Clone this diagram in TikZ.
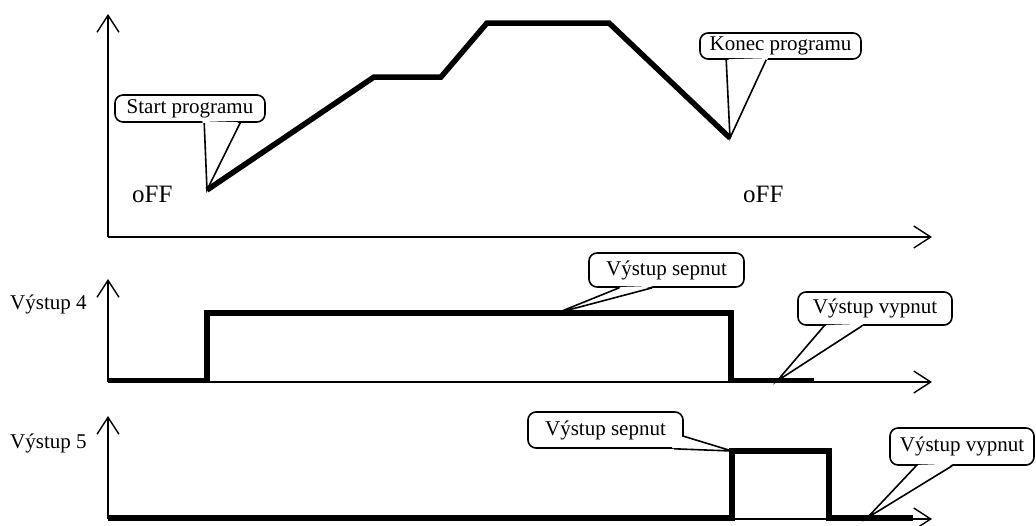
\documentclass[tikz,border=0pt]{standalone}
\usepackage{fontspec}
\setmainfont{Liberation Serif}
\usetikzlibrary{arrows.meta,calc,positioning}
\tikzset{
	timing diagram/.style={
		x=1pt, y=-1pt,
		axis/.style={line width=1.4pt, -{Straight Barb[length=17pt,width=22pt,line width=1.4pt]}},
		signal/.style={line width=5.5pt, line join=miter},
		bubble/.style={draw, line width=1.6pt, rounded corners=8pt, fill=white, inner sep=0pt,
			font=\fontsize{21}{25}\selectfont},
		level/.style={font=\fontsize{25}{30}\selectfont, inner sep=0pt, anchor=base west},
		channel/.style={font=\fontsize{21}{25}\selectfont, inner sep=0pt, anchor=base west}
		}
}
% tail of a speech bubble: node, two base offsets from its south west, tip
\newcommand\bubbletail[4]{%
	\coordinate (#1_b1) at ($(#1.south west)+(#2)$);
	\coordinate (#1_b2) at ($(#1.south west)+(#3)$);
	\fill[white] ($(#1_b1)!2.5pt!(#1.center)$) -- (#4) -- ($(#1_b2)!2.5pt!(#1.center)$) -- cycle;
	\draw[line width=1.6pt, line join=miter] (#1_b1) -- (#4) -- (#1_b2);}
\begin{document}
\begin{tikzpicture}[timing diagram]
	\useasboundingbox (0,0) rectangle (1036,525);
	% axes
	\coordinate (o1) at (108,237);
	\coordinate (o2) at (108,382);
	\coordinate (o3) at (108,519);
	\draw[axis] (o1) -- (108,14);
	\draw[axis] (o1) -- (932,237);
	\draw[axis] (o2) -- (108,279);
	\draw[axis] (o2) -- (932,382);
	\draw[axis] (o3) -- (108,416);
	\draw[axis] (o3) -- (932,519);
	% program curve
	\coordinate (start) at (207,190);
	\coordinate (stop) at (730,138);
	\draw[signal] (start) -- (374,77) -- (441,77) -- (487,23) -- (609,23) -- (stop);
	% outputs
	\coordinate (on4) at (557,313);
	\coordinate (off4) at (777,381);
	\draw[signal] (o2) ++(0,-1.5) -- (207,380.5) -- (207,313) -- (731,313) -- (731,380.5) -- (814,380.5);
	\coordinate (on5) at (732,451);
	\coordinate (off5) at (867,518);
	\draw[signal] (o3) ++(0,-1) -- (732,518) -- (on5) -- (829,451) -- (829,518) -- (913,518);
	% texts
	\node[level] (offA) at (132,202) {oFF};
	\node[level] (offB) at (743,202) {oFF};
	\node[channel] (ch4) at (10,309) {Výstup 4};
	\node[channel] (ch5) at (10,448) {Výstup 5};
	% bubbles
	\node[bubble, minimum width=150, minimum height=27] (startb) at (190,108.5) {Start programu};
	\bubbletail{startb}{90,0}{126,0}{start}
	\node[bubble, minimum width=161, minimum height=26] (stopb) at (780.5,46) {Konec programu};
	\bubbletail{stopb}{27,0}{67,0}{stop}
	\node[bubble, minimum width=155, minimum height=34] (on4b) at (666.5,270) {Výstup sepnut};
	\bubbletail{on4b}{31,0}{64,0}{on4}
	\node[bubble, minimum width=154, minimum height=33] (off4b) at (875,308.5) {Výstup vypnut};
	\bubbletail{off4b}{27,0}{65,0}{off4}
	\node[bubble, minimum width=155, minimum height=36] (on5b) at (605.5,430) {Výstup sepnut};
	\bubbletail{on5b}{155,-13}{147,0}{on5}
	\node[bubble, minimum width=144, minimum height=37] (off5b) at (962,446.5) {Výstup vypnut};
	\bubbletail{off5b}{27,0}{63,0}{off5}
\end{tikzpicture}
\end{document}
